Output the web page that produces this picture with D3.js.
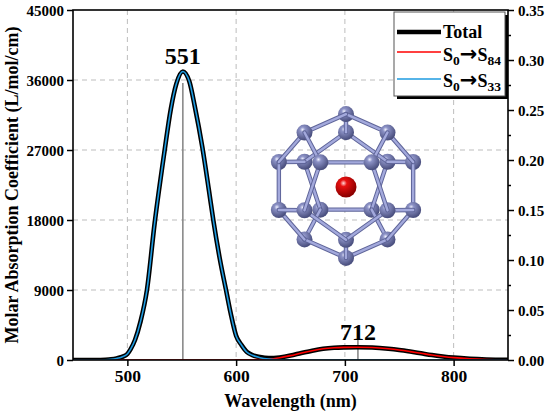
<!DOCTYPE html>
<html>
<head>
<meta charset="utf-8">
<script src="https://cdn.jsdelivr.net/npm/d3@7"></script>
<style>
  html, body { margin: 0; padding: 0; background: #fff; }
  svg { display: block; }
  text { font-family: "Liberation Serif", "Times New Roman", serif; font-weight: bold; fill: #000; }
</style>
</head>
<body>
<svg id="chart" width="550" height="416"></svg>
<script>
// ---------------- data ----------------
const wavelengths = [450,460,470,480,485,490,495,500,503,507,512,518,525,534,540,545,551,557,562,569,575,579,585,591,595,600,605,610,615,622,630,640,650,660,670,680,690,700,712,725,740,750,760,770,780,790,800,815,830,850];
const s33Values   = [0,0,5,40,90,200,390,780,1400,2570,4900,9000,17500,26700,32300,35500,37100,35800,32600,27300,21800,18000,13000,8800,6000,3100,1900,1000,600,300,120,30,10,0,0,0,0,0,0,0,0,0,0,0,0,0,0,0,0,0];
const s84Values   = [0,0,0,0,0,0,0,0,0,0,0,0,0,0,0,0,0,0,0,0,0,0,0,0,0,10,15,25,40,70,120,300,560,900,1200,1440,1570,1620,1640,1600,1440,1280,1080,860,640,460,310,160,70,20];
const totalValues = [0,0,5,40,90,200,390,780,1400,2570,4900,9000,17500,26700,32300,35500,37100,35800,32600,27300,21800,18000,13000,8800,6000,3110,1915,1025,640,370,240,330,570,900,1200,1440,1570,1620,1640,1600,1440,1280,1080,860,640,460,310,160,70,20];

const stickWavelengths = [551, 712];
const stickStrengths   = [0.277, 0.020];
const peakLabels = ["551", "712"];
const peakValues = [37100, 1640];

const xTicks = [500, 600, 700, 800];
const yTicksLeft = [0, 9000, 18000, 27000, 36000, 45000];
const yTicksRight = [0, 0.05, 0.10, 0.15, 0.20, 0.25, 0.30, 0.35];
const yMinorRight = [0.025, 0.075, 0.125, 0.175, 0.225, 0.275, 0.325];

const colors = { total: "#000000", s84: "#ff0000", s33: "#1e9be0" };

// ---------------- layout ----------------
const svg = d3.select("#chart");
const m = { left: 73, right: 508, top: 10, bottom: 360 };

const x = d3.scaleLinear().domain([450, 850]).range([m.left, m.right]);
const y = d3.scaleLinear().domain([0, 45000]).range([m.bottom, m.top]);
const y2 = d3.scaleLinear().domain([0, 0.35]).range([m.bottom, m.top]);

const defs = svg.append("defs");
defs.append("clipPath").attr("id", "plotclip")
  .append("rect").attr("x", m.left).attr("y", m.top)
  .attr("width", m.right - m.left).attr("height", m.bottom - m.top);

// grid
const grid = svg.append("g").attr("stroke", "#bdbdbd").attr("stroke-width", 1).attr("stroke-dasharray", "5,4");
grid.selectAll(".gx").data(xTicks).join("line")
  .attr("x1", d => x(d)).attr("x2", d => x(d)).attr("y1", m.top).attr("y2", m.bottom);
grid.selectAll(".gy").data(yTicksLeft.filter(d => d > 0 && d < 45000)).join("line")
  .attr("y1", d => y(d)).attr("y2", d => y(d)).attr("x1", m.left).attr("x2", m.right);

// oscillator strength sticks
svg.append("g").selectAll("line").data(stickWavelengths).join("line")
  .attr("x1", d => x(d)).attr("x2", d => x(d))
  .attr("y1", y2(0)).attr("y2", (d, i) => y2(stickStrengths[i]))
  .attr("stroke", "#8a8a8a").attr("stroke-width", 1.6);

// curves
const plot = svg.append("g").attr("clip-path", "url(#plotclip)");
const lineGen = vals => d3.line()
  .x((d, i) => x(wavelengths[i]))
  .y((d, i) => y(vals[i]))
  .curve(d3.curveMonotoneX)(vals);

plot.append("path").attr("d", lineGen(totalValues))
  .attr("fill", "none").attr("stroke", colors.total).attr("stroke-width", 4.6).attr("stroke-linejoin", "round");
plot.append("path").attr("d", lineGen(s84Values))
  .attr("fill", "none").attr("stroke", colors.s84).attr("stroke-width", 1.6);
plot.append("path").attr("d", lineGen(s33Values))
  .attr("fill", "none").attr("stroke", colors.s33).attr("stroke-width", 1.6);

// peak labels
svg.append("g").selectAll("text").data(peakLabels).join("text")
  .attr("x", (d, i) => x(stickWavelengths[i]))
  .attr("y", (d, i) => y(peakValues[i]) - 7)
  .attr("text-anchor", "middle").attr("font-size", 24).text(d => d);

// ---------------- molecule inset (dodecahedral cage with central atom) ----------------
const P = 1.618, Q = 0.618;
const cageVerts = [
  [1,1,1],[1,1,-1],[1,-1,1],[1,-1,-1],[-1,1,1],[-1,1,-1],[-1,-1,1],[-1,-1,-1],
  [0,Q,P],[0,Q,-P],[0,-Q,P],[0,-Q,-P],
  [Q,P,0],[Q,-P,0],[-Q,P,0],[-Q,-P,0],
  [P,0,Q],[P,0,-Q],[-P,0,Q],[-P,0,-Q]
];
const mol = { cx: 346, cy: 186, scale: 41.5, tilt: 20.6, atomR: 8, coreR: 10.5 };
const ct = Math.cos(mol.tilt * Math.PI / 180), st = Math.sin(mol.tilt * Math.PI / 180);
const atoms = cageVerts.map(([a, b, c]) => ({
  sx: mol.cx + a * mol.scale,
  sy: mol.cy - (c * ct + b * st) * mol.scale,
  depth: -c * st + b * ct,
  p: [a, b, c]
}));
const bonds = [];
for (let i = 0; i < atoms.length; i++) for (let j = i + 1; j < atoms.length; j++) {
  const [a1,b1,c1] = atoms[i].p, [a2,b2,c2] = atoms[j].p;
  const dd = Math.hypot(a1-a2, b1-b2, c1-c2);
  if (Math.abs(dd - 1.236) < 0.06) bonds.push({ a: atoms[i], b: atoms[j], depth: (atoms[i].depth + atoms[j].depth) / 2 - 0.01 });
}
const blueGrad = defs.append("radialGradient").attr("id", "atomBlue").attr("cx", "38%").attr("cy", "32%").attr("r", "65%");
blueGrad.append("stop").attr("offset", "0%").attr("stop-color", "#eef0ff");
blueGrad.append("stop").attr("offset", "25%").attr("stop-color", "#8c92c6");
blueGrad.append("stop").attr("offset", "100%").attr("stop-color", "#4b507f");
const redGrad = defs.append("radialGradient").attr("id", "atomRed").attr("cx", "38%").attr("cy", "32%").attr("r", "65%");
redGrad.append("stop").attr("offset", "0%").attr("stop-color", "#ffd6d6");
redGrad.append("stop").attr("offset", "25%").attr("stop-color", "#e81010");
redGrad.append("stop").attr("offset", "100%").attr("stop-color", "#8c0000");

const items = [
  ...bonds.map(b => ({ type: "bond", depth: b.depth, b })),
  ...atoms.map(a => ({ type: "atom", depth: a.depth, a })),
  { type: "core", depth: 0 }
].sort((u, v) => u.depth - v.depth);
const molG = svg.append("g");
items.forEach(it => {
  if (it.type === "bond") {
    molG.append("line").attr("x1", it.b.a.sx).attr("y1", it.b.a.sy).attr("x2", it.b.b.sx).attr("y2", it.b.b.sy)
      .attr("stroke", "#5f6599").attr("stroke-width", 4.4).attr("stroke-linecap", "round");
    molG.append("line").attr("x1", it.b.a.sx).attr("y1", it.b.a.sy).attr("x2", it.b.b.sx).attr("y2", it.b.b.sy)
      .attr("stroke", "#a3a9dc").attr("stroke-width", 2.4).attr("stroke-linecap", "round");
  } else if (it.type === "atom") {
    molG.append("circle").attr("cx", it.a.sx).attr("cy", it.a.sy).attr("r", mol.atomR).attr("fill", "url(#atomBlue)");
  } else {
    molG.append("circle").attr("cx", mol.cx).attr("cy", mol.cy + 1).attr("r", mol.coreR).attr("fill", "url(#atomRed)");
  }
});

// ---------------- axes ----------------
const axL = svg.append("g").attr("transform", `translate(${m.left},0)`)
  .call(d3.axisLeft(y).tickValues(yTicksLeft).tickFormat(d3.format("d")).tickSize(6).tickPadding(3).tickSizeOuter(0));
const axB = svg.append("g").attr("transform", `translate(0,${m.bottom})`)
  .call(d3.axisBottom(x).tickValues(xTicks).tickFormat(d3.format("d")).tickSize(6).tickPadding(4).tickSizeOuter(0));
const axR = svg.append("g").attr("transform", `translate(${m.right},0)`)
  .call(d3.axisRight(y2).tickValues(yTicksRight).tickFormat(d3.format(".2f")).tickSize(6).tickPadding(4).tickSizeOuter(0));
const axRm = svg.append("g").attr("transform", `translate(${m.right},0)`)
  .call(d3.axisRight(y2).tickValues(yMinorRight).tickFormat("").tickSize(3).tickSizeOuter(0));
[axL, axB, axR, axRm].forEach(g => {
  g.attr("font-family", null);
  g.select(".domain").remove();
  g.selectAll(".tick line").attr("stroke", "#000").attr("stroke-width", 1.5);
});
axL.selectAll("text").attr("font-size", 15).attr("dy", "0.34em");
axR.selectAll("text").attr("font-size", 15).attr("dy", "0.34em");
axB.selectAll("text").attr("font-size", 17.5);

// frame
svg.append("rect").attr("x", m.left).attr("y", m.top).attr("width", m.right - m.left).attr("height", m.bottom - m.top)
  .attr("fill", "none").attr("stroke", "#000").attr("stroke-width", 1.6);

// axis titles
svg.append("text").attr("x", (m.left + m.right) / 2).attr("y", 407)
  .attr("text-anchor", "middle").attr("font-size", 18).text("Wavelength (nm)");
svg.append("text").attr("transform", `translate(18,${(m.top + m.bottom) / 2}) rotate(-90)`)
  .attr("text-anchor", "middle").attr("font-size", 18).text("Molar Absorption Coefficient (L/mol/cm)");

// ---------------- legend ----------------
const lg = svg.append("g");
lg.append("rect").attr("x", 397).attr("y", 15).attr("width", 111).attr("height", 84).attr("fill", "#000");
lg.append("rect").attr("x", 394).attr("y", 12).attr("width", 111).attr("height", 84)
  .attr("fill", "#fff").attr("stroke", "#555").attr("stroke-width", 1);
const legRows = [
  { lineY: 32, textY: 38, color: colors.total, w: 4.6, parts: [["Total", "n"]] },
  { lineY: 52, textY: 61, color: colors.s84, w: 1.6, parts: [["S", "n"], ["0", "s"], ["\u2192", "a"], ["S", "n"], ["84", "s"]] },
  { lineY: 79, textY: 87, color: colors.s33, w: 1.6, parts: [["S", "n"], ["0", "s"], ["\u2192", "a"], ["S", "n"], ["33", "s"]] }
];
legRows.forEach(r => {
  lg.append("line").attr("x1", 397).attr("x2", 441).attr("y1", r.lineY).attr("y2", r.lineY)
    .attr("stroke", r.color).attr("stroke-width", r.w);
  const t = lg.append("text").attr("x", 443).attr("y", r.textY).attr("font-size", 18);
  let prevSub = false;
  r.parts.forEach(([s, kind]) => {
    const ts = t.append("tspan").text(s);
    if (kind === "s") { ts.attr("font-size", 13.5).attr("dy", 4); }
    else {
      ts.attr("dy", prevSub ? -4 : 0);
      if (kind === "a") ts.attr("font-size", 21).style("font-family", "'DejaVu Sans', sans-serif");
    }
    prevSub = kind === "s";
  });
});
</script>
</body>
</html>
